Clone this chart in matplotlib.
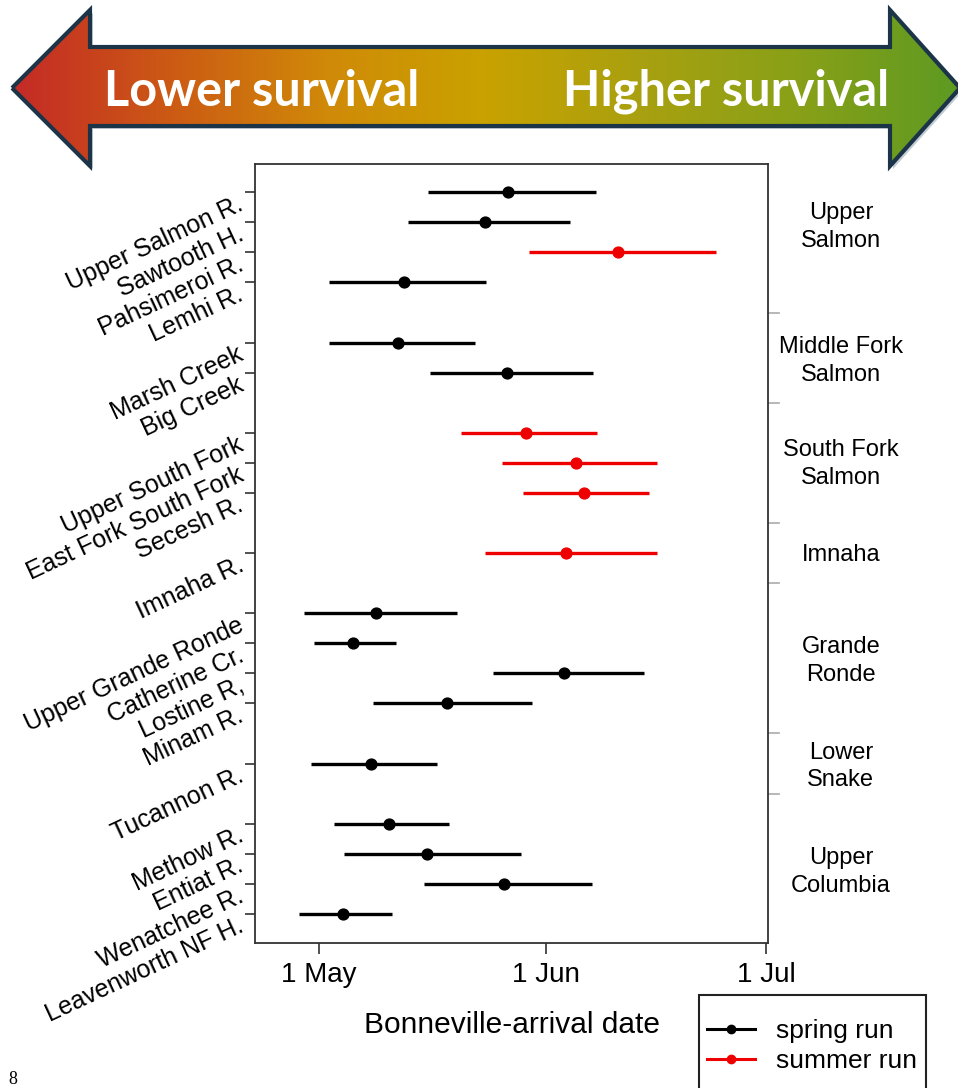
import matplotlib.pyplot as plt
import numpy as np
from matplotlib.path import Path
from matplotlib.patches import PathPatch, Rectangle
from matplotlib.lines import Line2D
from matplotlib.colors import LinearSegmentedColormap

plt.rcParams['font.family'] = ['Liberation Sans', 'DejaVu Sans']

W, H = 958, 1088

# populations top to bottom; empty rows separate the regions
populations = ["Upper Salmon R.", "Sawtooth H.", "Pahsimeroi R.", "Lemhi R.",
               "Marsh Creek", "Big Creek",
               "Upper South Fork", "East Fork South Fork", "Secesh R.",
               "Imnaha R.",
               "Upper Grande Ronde", "Catherine Cr.", "Lostine R,", "Minam R.",
               "Tucannon R.",
               "Methow R.", "Entiat R.", "Wenatchee R.", "Leavenworth NF H."]
rows = [0, 1, 2, 3, 5, 6, 8, 9, 10, 12, 14, 15, 16, 17, 19, 21, 22, 23, 24]
run = ["spring", "spring", "summer", "spring", "spring", "spring",
       "summer", "summer", "summer", "summer",
       "spring", "spring", "spring", "spring", "spring",
       "spring", "spring", "spring", "spring"]

# arrival dates as day of year: median and interval
median_day = [146.8, 143.7, 161.8, 132.6, 131.8, 146.6, 149.3, 156.1, 157.1, 154.7,
              128.8, 125.7, 154.5, 138.5, 128.1, 130.6, 135.8, 146.2, 124.3]
low_day = [135.9, 133.2, 149.7, 122.4, 122.4, 136.1, 140.4, 146.0, 148.9, 143.6,
           118.9, 120.3, 144.8, 128.4, 119.9, 123.1, 124.4, 135.3, 118.3]
high_day = [158.8, 155.3, 175.2, 143.8, 142.3, 158.4, 159.0, 167.1, 166.0, 167.1,
            139.9, 131.5, 165.4, 150.0, 137.1, 138.7, 148.6, 158.3, 131.0]

regions = ["Upper\nSalmon", "Middle Fork\nSalmon", "South Fork\nSalmon", "Imnaha",
           "Grande\nRonde", "Lower\nSnake", "Upper\nColumbia"]
region_pos = [1.15, 5.6, 9.05, 12.05, 15.6, 19.1, 22.6]
region_breaks = [4, 7, 11, 13, 18, 20]

month_days = [121, 152, 182]
month_labels = ["1 May", "1 Jun", "1 Jul"]

run_colors = {"spring": "black", "summer": "#ee0000"}

fig = plt.figure(figsize=(W / 100, H / 100), dpi=100)

ax = fig.add_axes([255 / W, 1 - 943 / H, (768 - 255) / W, (943 - 164) / H])
for kind in ["spring", "summer"]:
    idx = [i for i, r in enumerate(run) if r == kind]
    med = np.array([median_day[i] for i in idx])
    lo = np.array([low_day[i] for i in idx])
    hi = np.array([high_day[i] for i in idx])
    y = [rows[i] for i in idx]
    ax.errorbar(med, y, xerr=[med - lo, hi - med], fmt='o', color=run_colors[kind],
                ms=7.8, elinewidth=2.4, capsize=0)

ax.set_xlim(112.27, 182.27)
ax.set_ylim(24.97, -0.94)
ax.set_xticks(month_days)
ax.set_xticklabels(month_labels, fontsize=20)
ax.set_yticks(rows)
ax.set_yticklabels(populations, fontsize=18, rotation=25, rotation_mode='anchor',
                   ha='right', va='top')
ax.tick_params(axis='y', length=7, width=1.2, pad=6, color='#333333')
ax.tick_params(axis='x', length=8, width=1.2, pad=6, color='#333333')
for s in ax.spines.values():
    s.set_color('#333333')
    s.set_linewidth(1.3)
ax.set_xlabel("Bonneville-arrival date", fontsize=21.5, labelpad=16)

# region names and dividers to the right of the panel
tr = ax.get_yaxis_transform()
for name, yp in zip(regions, region_pos):
    ax.text(1.142, yp, name, transform=tr, ha='center', va='center', fontsize=17,
            linespacing=1.35)
for b in region_breaks:
    ax.plot([1.0, 1.022], [b, b], transform=tr, color='#aaaaaa', lw=1.2, clip_on=False)

# survival arrow banner across the top (pixel coordinates)
bax = fig.add_axes([0, 0, 1, 1], zorder=3)
bax.set_xlim(0, W)
bax.set_ylim(H, 0)
bax.axis('off')
arrow = [(12, 88), (90, 10), (90, 47), (890, 47), (890, 10), (960, 88),
         (890, 166), (890, 126), (90, 126), (90, 166), (12, 88)]
codes = [Path.MOVETO] + [Path.LINETO] * (len(arrow) - 2) + [Path.CLOSEPOLY]
shadow = PathPatch(Path([(x + 3, y + 3) for x, y in arrow], codes),
                   fc='#8899aa', ec='none', alpha=0.5)
bax.add_patch(shadow)
patch = PathPatch(Path(arrow, codes), fc='none', ec='#1c3448', lw=3, zorder=4)
bax.add_patch(patch)
grad = LinearSegmentedColormap.from_list(
    "survival", ["#c42a26", "#cc5a14", "#d08a08", "#c9a200", "#a8a010", "#88a018", "#5e9a22"])
img = bax.imshow(np.linspace(0, 1, 256).reshape(1, -1), cmap=grad, aspect='auto',
                 extent=(12, 960, 166, 10), zorder=2)
img.set_clip_path(patch)
bax.text(104, 106, "Lower survival", color='white', fontsize=35, fontweight='bold',
         family=['Lato', 'DejaVu Sans'], ha='left', va='baseline', zorder=5)
bax.text(889, 106, "Higher survival", color='white', fontsize=35, fontweight='bold',
         family=['Lato', 'DejaVu Sans'], ha='right', va='baseline', zorder=5)

# legend box runs off the bottom edge
bax.add_patch(Rectangle((699, 995), 227, 120, fc='white', ec='#222222', lw=1.5,
                        clip_on=False))
handles = [Line2D([], [], color=run_colors[k], marker='o', lw=2.2, ms=6) for k in run_colors]
fig.legend(handles, ["spring run", "summer run"], loc='center left',
           bbox_to_anchor=(707 / W, 1 - 1046 / H), fontsize=19, frameon=False,
           handlelength=1.82, handletextpad=0.8, borderpad=0, borderaxespad=0,
           labelspacing=0.22).set_zorder(5)

fig.text(8 / W, 1 - 1071 / H, "8", fontsize=13, family=['Liberation Serif'],
         ha='left', va='top')

fig.savefig("out.png", dpi=100)
